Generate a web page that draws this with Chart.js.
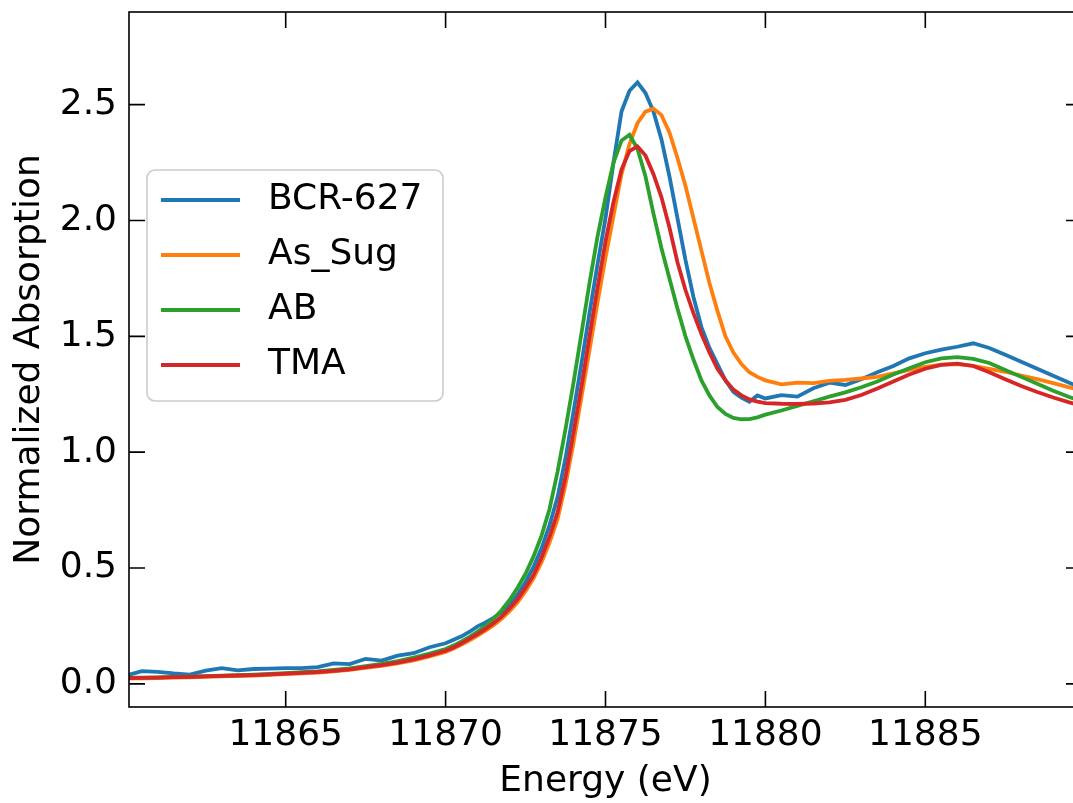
<!DOCTYPE html>
<html>
<head>
<meta charset="utf-8">
<script src="https://cdn.jsdelivr.net/npm/chart.js@4.4.0/dist/chart.umd.min.js"></script>
<style>
    html, body { margin: 0; padding: 0; overflow: hidden; background: #fff; }
    #wrap { width: 1073px; height: 803px; overflow: hidden; }
</style>
</head>
<body>
<div id="wrap"><canvas id="myChart1" width="1090" height="803"></canvas></div>
<script>
// energy grid (eV)
const energy = [
    11860, 11860.5, 11861, 11861.5, 11862, 11862.5, 11863, 11863.5, 11864, 11864.5,
    11865, 11865.5, 11866, 11866.5, 11867, 11867.5, 11868, 11868.5, 11869, 11869.5, 11870,
    11870.25, 11870.5, 11870.75, 11871, 11871.25, 11871.5, 11871.75, 11872,
    11872.25, 11872.5, 11872.75, 11873, 11873.25, 11873.5, 11873.75, 11874,
    11874.25, 11874.5, 11874.75, 11875, 11875.25, 11875.5, 11875.75, 11876,
    11876.25, 11876.5, 11876.75, 11877, 11877.25, 11877.5, 11877.75, 11878,
    11878.25, 11878.5, 11878.75, 11879, 11879.25, 11879.5, 11879.75, 11880,
    11880.5, 11881, 11881.5, 11882, 11882.5, 11883, 11883.5, 11884, 11884.5, 11885,
    11885.5, 11886, 11886.5, 11887, 11887.5, 11888, 11888.5, 11889, 11889.5, 11890
];

const bcr627 = [
    0.035, 0.055, 0.052, 0.045, 0.040, 0.057, 0.068, 0.058, 0.064, 0.066,
    0.068, 0.068, 0.072, 0.088, 0.085, 0.108, 0.100, 0.122, 0.132, 0.158, 0.175,
    0.19, 0.205, 0.225, 0.248, 0.265, 0.285, 0.31, 0.34,
    0.385, 0.44, 0.505, 0.585, 0.685, 0.805, 0.975, 1.175,
    1.385, 1.60, 1.81, 2.01, 2.25, 2.47, 2.56, 2.596,
    2.55, 2.47, 2.35, 2.19, 2.01, 1.83, 1.67, 1.54,
    1.45, 1.38, 1.31, 1.26, 1.235, 1.218, 1.245, 1.232,
    1.246, 1.24, 1.276, 1.30, 1.29, 1.315, 1.345, 1.372, 1.405, 1.427,
    1.443, 1.455, 1.47, 1.45, 1.42, 1.39, 1.36, 1.33, 1.30, 1.27
];

const asSug = [
    0.023, 0.024, 0.025, 0.027, 0.028, 0.030, 0.032, 0.034, 0.036, 0.039,
    0.042, 0.045, 0.049, 0.054, 0.060, 0.069, 0.078, 0.088, 0.101, 0.118, 0.138,
    0.152, 0.169, 0.188, 0.208, 0.229, 0.253, 0.281, 0.314,
    0.352, 0.40, 0.455, 0.525, 0.61, 0.71, 0.86, 1.04,
    1.24, 1.44, 1.645, 1.84, 2.02, 2.20, 2.33, 2.42,
    2.47, 2.483, 2.455, 2.38, 2.27, 2.15, 2.01, 1.87,
    1.73, 1.61, 1.50, 1.43, 1.38, 1.345, 1.325, 1.31,
    1.293, 1.300, 1.298, 1.308, 1.312, 1.318, 1.325, 1.34, 1.355, 1.368,
    1.378, 1.38, 1.372, 1.36, 1.347, 1.33, 1.315, 1.298, 1.28, 1.265
];

const ab = [
    0.026, 0.027, 0.028, 0.030, 0.031, 0.033, 0.035, 0.037, 0.040, 0.043,
    0.046, 0.050, 0.054, 0.060, 0.067, 0.076, 0.086, 0.098, 0.113, 0.131, 0.150,
    0.165, 0.183, 0.203, 0.226, 0.25, 0.28, 0.318, 0.362,
    0.415, 0.475, 0.55, 0.64, 0.755, 0.915, 1.10, 1.30,
    1.515, 1.73, 1.93, 2.10, 2.25, 2.345, 2.37, 2.31,
    2.19, 2.03, 1.88, 1.75, 1.62, 1.50, 1.40, 1.31,
    1.245, 1.195, 1.165, 1.148, 1.142, 1.143, 1.150, 1.162,
    1.18, 1.20, 1.22, 1.24, 1.258, 1.28, 1.305, 1.335, 1.362, 1.388,
    1.405, 1.41, 1.403, 1.385, 1.355, 1.325, 1.295, 1.265, 1.238, 1.215
];

const tma = [
    0.025, 0.026, 0.027, 0.029, 0.030, 0.032, 0.034, 0.036, 0.038, 0.041,
    0.044, 0.047, 0.051, 0.056, 0.062, 0.072, 0.081, 0.092, 0.106, 0.123, 0.143,
    0.157, 0.175, 0.195, 0.215, 0.237, 0.262, 0.290, 0.325,
    0.365, 0.415, 0.47, 0.545, 0.635, 0.74, 0.895, 1.085,
    1.285, 1.50, 1.71, 1.91, 2.08, 2.22, 2.30, 2.32,
    2.28, 2.20, 2.10, 1.97, 1.82, 1.70, 1.60, 1.51,
    1.43, 1.36, 1.31, 1.27, 1.245, 1.228, 1.218, 1.212,
    1.209, 1.208, 1.21, 1.215, 1.226, 1.247, 1.275, 1.305, 1.335, 1.36,
    1.377, 1.382, 1.372, 1.345, 1.315, 1.286, 1.26, 1.236, 1.215, 1.196
];

const seriesNames = ['BCR-627', 'As_Sug', 'AB', 'TMA'];
const seriesColors = ['#1f77b4', '#ff7f0e', '#2ca02c', '#d62728'];
const xTicks = [11865, 11870, 11875, 11880, 11885];
const yTicks = [0, 0.5, 1.0, 1.5, 2.0, 2.5];

const FONT = 'DejaVu Sans';
const LINE_W = 3.8;

function toPoints(ys) {
    return energy.map((e, i) => ({ x: e, y: ys[i] }));
}

// frame, inward ticks on all four sides, and the legend box
const frameAndLegend = {
    id: 'frameAndLegend',
    afterDraw(chart) {
        const { ctx, chartArea: a, scales: { x, y } } = chart;
        const tl = 16;
        ctx.save();
        ctx.strokeStyle = '#000';
        ctx.lineWidth = 1.6;
        ctx.strokeRect(a.left, a.top, a.right - a.left, a.bottom - a.top);
        ctx.beginPath();
        x.ticks.forEach(t => {
            const px = x.getPixelForValue(t.value);
            ctx.moveTo(px, a.bottom); ctx.lineTo(px, a.bottom - tl);
            ctx.moveTo(px, a.top); ctx.lineTo(px, a.top + tl);
        });
        y.ticks.forEach(t => {
            const py = y.getPixelForValue(t.value);
            ctx.moveTo(a.left, py); ctx.lineTo(a.left + tl, py);
            ctx.moveTo(a.right, py); ctx.lineTo(a.right - tl, py);
        });
        ctx.stroke();

        // legend
        const bx = a.left + 18, by = a.top + 158, bw = 296, bh = 231, r = 8;
        ctx.beginPath();
        ctx.roundRect(bx, by, bw, bh, r);
        ctx.fillStyle = 'rgba(255,255,255,0.8)';
        ctx.fill();
        ctx.strokeStyle = '#cccccc';
        ctx.lineWidth = 1.6;
        ctx.stroke();

        ctx.font = '36px "' + FONT + '"';
        ctx.textBaseline = 'middle';
        ctx.textAlign = 'left';
        chart.data.datasets.forEach((ds, i) => {
            const ly = by + 30 + i * 55;
            ctx.beginPath();
            ctx.strokeStyle = ds.borderColor;
            ctx.lineWidth = LINE_W;
            ctx.moveTo(bx + 14, ly);
            ctx.lineTo(bx + 93, ly);
            ctx.stroke();
            ctx.fillStyle = '#000';
            ctx.fillText(ds.label, bx + 121, ly);
        });
        ctx.restore();
    }
};

const ctx = document.getElementById('myChart1').getContext('2d');
const allSeries = [bcr627, asSug, ab, tma];

const chart1 = new Chart(ctx, {
    type: 'line',
    data: {
        datasets: allSeries.map((s, i) => ({
            label: seriesNames[i],
            data: toPoints(s),
            borderColor: seriesColors[i],
            backgroundColor: seriesColors[i],
            borderWidth: LINE_W,
            pointRadius: 0,
            tension: 0,
            fill: false,
            clip: 0,
            order: 3 - i
        }))
    },
    options: {
        responsive: false,
        devicePixelRatio: 1,
        animation: false,
        layout: { padding: { top: 12, right: 8, left: 0, bottom: 0 } },
        plugins: {
            legend: { display: false },
            tooltip: { enabled: false }
        },
        scales: {
            x: {
                type: 'linear',
                min: 11860.1,
                max: 11889.9,
                afterFit: s => { s.height = 96; s.paddingLeft = 0; s.paddingRight = 0; },
                afterBuildTicks: s => { s.ticks = xTicks.map(v => ({ value: v })); },
                grid: { display: false, drawTicks: false },
                border: { display: false },
                ticks: {
                    autoSkip: false,
                    maxRotation: 0,
                    padding: 7,
                    color: '#000',
                    font: { family: FONT, size: 36 },
                    callback: v => String(v)
                },
                title: {
                    display: true,
                    text: 'Energy (eV)',
                    color: '#000',
                    font: { family: FONT, size: 36 },
                    padding: { top: 0, bottom: 0 }
                }
            },
            y: {
                min: -0.1,
                max: 2.9,
                afterFit: s => { s.width = 129; s.paddingTop = 0; s.paddingBottom = 0; },
                afterBuildTicks: s => { s.ticks = yTicks.map(v => ({ value: v })); },
                grid: { display: false, drawTicks: false },
                border: { display: false },
                ticks: {
                    autoSkip: false,
                    padding: 12,
                    color: '#000',
                    font: { family: FONT, size: 36 },
                    callback: v => v.toFixed(1)
                },
                title: {
                    display: true,
                    text: 'Normalized Absorption',
                    color: '#000',
                    font: { family: FONT, size: 36 },
                    padding: { top: 8, bottom: 0 }
                }
            }
        }
    },
    plugins: [frameAndLegend]
});
</script>
</body>
</html>
